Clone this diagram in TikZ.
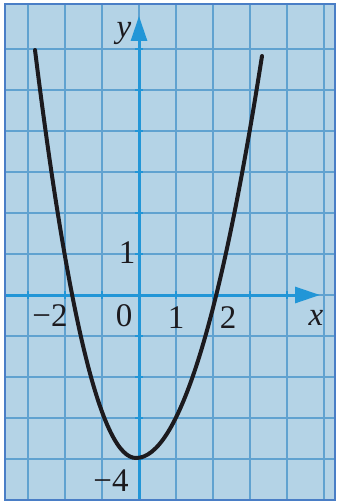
\documentclass[tikz,border=0pt]{standalone}
\usepackage{fontspec}
\setmainfont{Liberation Serif}
\usetikzlibrary{arrows.meta}
\definecolor{paper}{RGB}{180,211,230}
\definecolor{gridblue}{RGB}{96,162,208}
\definecolor{axisblue}{RGB}{34,150,215}
\definecolor{borderblue}{RGB}{74,126,198}
\definecolor{ink}{RGB}{28,26,30}
\begin{document}
\begin{tikzpicture}[x=1pt,y=-1pt,
  gridline/.style={draw=gridblue, line width=1.6pt},
  axisline/.style={draw=axisblue, line width=3pt, -{Triangle[length=25pt,width=16pt]}},
  tickmark/.style={draw=axisblue, line width=2.5pt},
  lbl/.style={font=\fontsize{33}{36}\selectfont, text=ink, inner sep=0pt},
  curve/.style={draw=ink, line width=4pt, line cap=round}]
\useasboundingbox (0,0) rectangle (337,502);
\fill[white] (0,0) rectangle (337,502);
\fill[paper] (5,4) rectangle (335,500);
\begin{scope}
\clip (5,4) rectangle (335,500);
\foreach \i in {-3,...,5} \draw[gridline] ({139+37*\i},4) -- ({139+37*\i},500);
\foreach \j in {-5,...,6} \draw[gridline] (5,{295-41*\j}) -- (335,{295-41*\j});
\end{scope}
% axes
\coordinate (xstart) at (6,295);
\coordinate (xend) at (320,295);
\coordinate (ystart) at (139,500);
\coordinate (yend) at (139,16);
\draw[axisline] (xstart) -- (xend);
\draw[axisline] (ystart) -- (yend);
\foreach \i in {-3,...,4} \draw[tickmark] ({139+37*\i},291) -- ({139+37*\i},299);
\foreach \j in {-4,...,6} \draw[tickmark] (135,{295-41*\j}) -- (143,{295-41*\j});
% parabola
\draw[curve] (35,50) .. controls (68.67,322) and (102.33,458) .. (136,458)
  .. controls (178,458) and (220,324) .. (262,56);
% labels
\node[lbl] (ylab) at (124,33) {\textit{y}};
\node[lbl] (xlab) at (316,318) {\textit{x}};
\node[lbl] (yone) at (127,253) {1};
\node[lbl] (xmtwo) at (50,316) {−2};
\node[lbl] (zero) at (124,316) {0};
\node[lbl] (xone) at (176,318) {1};
\node[lbl] (xtwo) at (228,318) {2};
\node[lbl] (ymfour) at (111,481) {−4};
\draw[borderblue, line width=2.5pt] (5,4) rectangle (335,500);
\end{tikzpicture}
\end{document}
